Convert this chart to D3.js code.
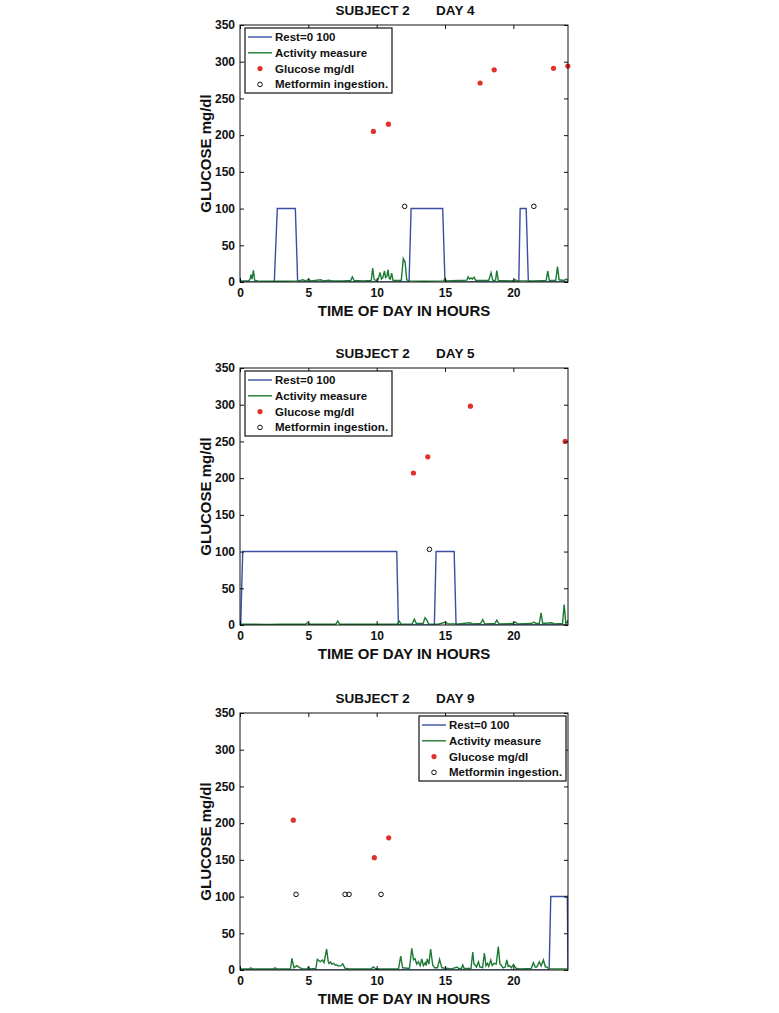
<!DOCTYPE html>
<html>
<head>
<meta charset="utf-8">
<script src="https://cdn.jsdelivr.net/npm/d3@7"></script>
<style>
  html, body { margin: 0; padding: 0; background: #fff; }
  svg { display: block; }
  text { font-family: "Liberation Sans", Arial, Helvetica, sans-serif; font-weight: bold; fill: #111; }
</style>
</head>
<body>
<script>
// ---------------- DATA ----------------
const panelTitles = ["SUBJECT 2       DAY 4", "SUBJECT 2       DAY 5", "SUBJECT 2       DAY 9"];
const xTicks = [0, 5, 10, 15, 20];
const yTicks = [0, 50, 100, 150, 200, 250, 300, 350];
const legendLabels = ["Rest=0 100", "Activity measure", "Glucose mg/dl", "Metformin ingestion."];
const xLabel = "TIME OF DAY IN HOURS";
const yLabel = "GLUCOSE mg/dl";

// Day 4
const rest4 = [[0,0],[2.51,0],[2.73,100],[4.05,100],[4.22,0],[12.37,0],[12.52,100],[14.83,100],[15.0,0],[20.4,0],[20.5,100],[20.94,100],[21.1,0],[24,0]];
const activity4 = [[0,1.5],[0.6,1.5],[0.72,3],[0.81,10],[0.88,4],[0.98,16],[1.08,2],[1.3,1.5],[2.0,1.2],[2.5,1],[3.5,1],[4.3,1.5],[4.6,3],[4.8,1.5],[5.0,3.5],[5.2,1.5],[5.9,3],[6.1,1.5],[6.5,2.5],[6.7,1.5],[7.5,1.5],[8.1,2],[8.22,7],[8.35,2],[9.0,1.5],[9.6,2],[9.71,19],[9.82,3],[10.0,2],[10.1,3],[10.25,13],[10.35,4],[10.45,6],[10.57,15],[10.65,6],[10.75,8],[10.83,17],[10.92,5],[11.0,4],[11.1,12],[11.2,2],[11.8,2],[11.95,32],[12.08,27],[12.2,3],[12.35,1.5],[13.5,1],[14.9,1.5],[15.0,5],[15.1,1.5],[16.0,2],[16.6,2.5],[16.69,7],[16.8,4],[16.9,5.5],[17.0,4],[17.13,6.5],[17.25,2],[18.2,2],[18.37,12.7],[18.5,2],[18.7,2.5],[18.79,15.5],[18.9,2],[19.9,1.5],[20.13,3],[20.3,1.5],[21.5,1.5],[22.4,2],[22.52,15],[22.63,2],[23.1,2],[23.23,21],[23.35,3],[23.7,2],[23.87,4],[24,2]];
const glucose4 = [[9.76,205],[10.86,215],[17.57,271],[18.6,289],[22.94,291],[23.99,294]];
const metformin4 = [[12.05,103],[21.5,103]];

// Day 5
const rest5 = [[0,0],[0.05,0],[0.2,100],[11.47,100],[11.59,0],[14.22,0],[14.35,100],[15.67,100],[15.81,0],[24,0]];
const activity5 = [[0,1],[1,1],[2,0.8],[3,1],[4.8,1],[4.95,3.6],[5.1,1],[6,1],[7.0,1],[7.15,5.4],[7.3,1],[9,1],[11.5,1],[11.66,5],[11.8,1],[12.6,1.5],[12.76,8],[12.9,2],[13.4,2],[13.54,10],[13.66,7],[13.8,1.5],[14.5,1],[15.06,4],[15.2,1.5],[16.0,1.5],[16.84,3],[17.0,1.5],[17.6,2],[17.76,7.4],[17.9,1.5],[18.65,2],[18.79,6.5],[18.95,1.5],[19.9,2],[20.13,4],[20.3,1.5],[21.3,2],[21.52,4],[21.65,2],[21.9,2],[22.03,16.5],[22.15,2],[22.81,3],[23.0,1.5],[23.6,2],[23.72,28],[23.84,2],[23.96,5],[24,2]];
const glucose5 = [[12.69,207],[13.74,229],[16.86,298],[23.79,250]];
const metformin5 = [[13.86,103]];

// Day 9
const rest9 = [[0,0],[22.62,0],[22.74,100],[23.95,100],[24,0]];
const activity9 = [[0,1.5],[0.7,1.5],[0.78,3],[0.9,1.5],[2.45,1.5],[2.56,3],[2.7,1.5],[3.7,1.5],[3.8,15.9],[3.95,3],[4.15,5.9],[4.4,3],[4.6,1.5],[4.9,1.5],[5.0,4],[5.1,1.5],[5.55,2],[5.66,14.5],[5.86,11.3],[6.03,13.6],[6.15,10],[6.34,28.6],[6.45,12],[6.51,9],[6.62,11],[6.71,8],[6.85,9],[6.95,6.8],[7.1,7],[7.2,5.5],[7.4,6],[7.52,8.2],[7.69,2.3],[8.0,1.5],[9.6,1.5],[9.76,4.1],[9.9,2],[10.2,1.5],[11.6,1.5],[11.76,19],[11.9,3],[12.4,2],[12.57,29.5],[12.7,14],[12.81,15.4],[12.93,8],[13.05,11.3],[13.18,6],[13.3,15],[13.42,6],[13.55,10],[13.62,6],[13.7,15],[13.82,8],[13.95,28.6],[14.1,6.8],[14.25,3],[14.45,3],[14.6,14.5],[14.77,3],[15.5,1.5],[15.87,4],[16.0,2],[16.2,2],[16.3,6.8],[16.4,2],[16.9,2],[17.03,24.5],[17.12,8],[17.2,6.8],[17.3,4],[17.45,11.3],[17.55,4],[17.62,4],[17.75,3],[17.88,23],[18.0,6],[18.1,9],[18.2,5],[18.35,13.6],[18.45,6],[18.6,9],[18.75,8],[18.9,31.8],[19.02,8],[19.1,6.8],[19.25,3],[19.4,4],[19.52,13.6],[19.62,5],[19.72,6],[19.85,3],[20.01,7.5],[20.2,2.3],[20.5,1.5],[21.3,2],[21.47,10],[21.6,4],[21.72,4],[21.9,11.3],[22.03,5.5],[22.2,13.6],[22.35,4],[22.45,4],[22.6,1.5],[24,1.5]];
const glucose9 = [[3.9,204],[9.83,153],[10.88,180]];
const metformin9 = [[4.1,103],[7.69,103],[7.98,103],[10.32,103]];

// ---------------- LAYOUT ----------------
const W = 779, H = 1013;
const panels = [
  { title: panelTitles[0], rest: rest4, act: activity4, glu: glucose4, met: metformin4, top: 25, legend: "left" },
  { title: panelTitles[1], rest: rest5, act: activity5, glu: glucose5, met: metformin5, top: 368, legend: "left" },
  { title: panelTitles[2], rest: rest9, act: activity9, glu: glucose9, met: metformin9, top: 713, legend: "right" }
];
const left = 240, right = 568, ph = 257;
const colRest = "#3a4fa3", colAct = "#1d7a34", colGlu = "#e2302b";

const svg = d3.select("body").append("svg").attr("width", W).attr("height", H);

panels.forEach(p => {
  const x = d3.scaleLinear().domain([0, 24]).range([left, right]);
  const y = d3.scaleLinear().domain([0, 350]).range([p.top + ph, p.top]);
  const g = svg.append("g");

  const cid = "clip" + p.top;
  svg.append("clipPath").attr("id", cid).append("rect")
    .attr("x", left).attr("y", p.top).attr("width", right - left).attr("height", ph);

  const line = d3.line().x(d => x(d[0])).y(d => y(d[1]));
  const plot = g.append("g").attr("clip-path", `url(#${cid})`);
  plot.append("path").datum(p.rest).attr("d", line)
    .attr("fill", "none").attr("stroke", colRest).attr("stroke-width", 1.4);
  plot.append("path").datum(p.act).attr("d", line)
    .attr("fill", "none").attr("stroke", colAct).attr("stroke-width", 1.4);

  g.selectAll(".glu").data(p.glu).enter().append("circle")
    .attr("cx", d => x(d[0])).attr("cy", d => y(d[1])).attr("r", 2.6)
    .attr("fill", colGlu);
  g.selectAll(".met").data(p.met).enter().append("circle")
    .attr("cx", d => x(d[0])).attr("cy", d => y(d[1])).attr("r", 2.3)
    .attr("fill", "none").attr("stroke", "#111").attr("stroke-width", 1);

  // Axes (MATLAB style, inward ticks on all four sides)
  const axB = d3.axisBottom(x).tickValues(xTicks).tickSizeInner(-4).tickSizeOuter(0).tickPadding(6);
  const axT = d3.axisTop(x).tickValues(xTicks).tickSizeInner(-4).tickSizeOuter(0).tickFormat("");
  const axL = d3.axisLeft(y).tickValues(yTicks).tickSizeInner(-4).tickSizeOuter(0).tickPadding(5);
  const axR = d3.axisRight(y).tickValues(yTicks).tickSizeInner(-4).tickSizeOuter(0).tickFormat("");

  const styleAx = sel => {
    sel.select(".domain").remove();
    sel.selectAll("line").attr("stroke", "#111");
    sel.selectAll("text").attr("font-size", 12).attr("font-weight", "bold")
      .attr("font-family", '"Liberation Sans", Arial, sans-serif').attr("fill", "#111");
  };
  g.append("g").attr("transform", `translate(0,${p.top + ph})`).call(axB).call(styleAx);
  g.append("g").attr("transform", `translate(0,${p.top})`).call(axT).call(styleAx);
  g.append("g").attr("transform", `translate(${left},0)`).call(axL).call(styleAx);
  g.append("g").attr("transform", `translate(${right},0)`).call(axR).call(styleAx);

  g.append("rect").attr("x", left).attr("y", p.top).attr("width", right - left).attr("height", ph)
    .attr("fill", "none").attr("stroke", "#111").attr("stroke-width", 1);

  // Title and labels
  g.append("text").attr("x", (left + right) / 2 + 1).attr("y", p.top - 10)
    .attr("text-anchor", "middle").attr("font-size", 13.5).style("white-space", "pre")
    .text(p.title);
  g.append("text").attr("x", (left + right) / 2).attr("y", p.top + ph + 34)
    .attr("text-anchor", "middle").attr("font-size", 15).text(xLabel);
  g.append("text").attr("transform", `translate(211,${p.top + ph / 2}) rotate(-90)`)
    .attr("text-anchor", "middle").attr("font-size", 15).text(yLabel);

  // Legend
  const lw = 147, lh = 65;
  const lx = p.legend === "left" ? left + 5 : right - lw - 2;
  const ly = p.top + 3;
  const lg = g.append("g").attr("transform", `translate(${lx},${ly})`);
  lg.append("rect").attr("width", lw).attr("height", lh).attr("fill", "#fff")
    .attr("stroke", "#111").attr("stroke-width", 1.2);
  legendLabels.forEach((lab, i) => {
    const cy = 9 + i * 15.8;
    if (i === 0 || i === 1) {
      lg.append("line").attr("x1", 3).attr("x2", 27).attr("y1", cy).attr("y2", cy)
        .attr("stroke", i === 0 ? colRest : colAct).attr("stroke-width", 1.4);
    } else if (i === 2) {
      lg.append("circle").attr("cx", 15).attr("cy", cy).attr("r", 2.6).attr("fill", colGlu);
    } else {
      lg.append("circle").attr("cx", 15).attr("cy", cy).attr("r", 2.3)
        .attr("fill", "none").attr("stroke", "#111").attr("stroke-width", 1);
    }
    lg.append("text").attr("x", 30).attr("y", cy + 4).attr("font-size", 11.5).text(lab);
  });
});
</script>
</body>
</html>
